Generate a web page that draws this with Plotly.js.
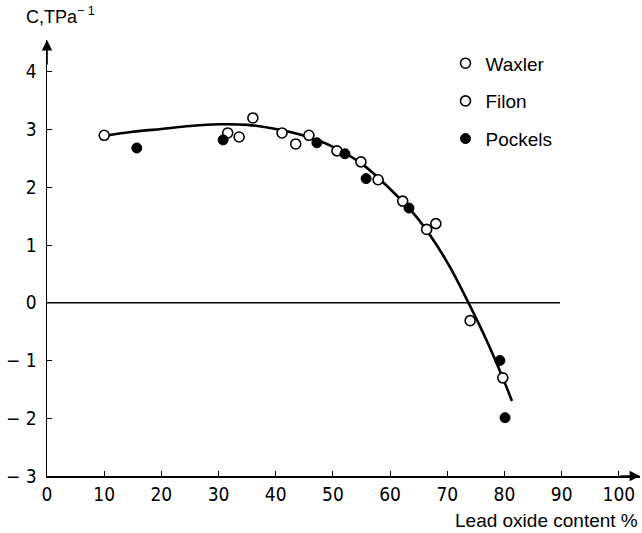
<!DOCTYPE html>
<html><head><meta charset="utf-8">
<script src="https://cdn.plot.ly/plotly-3.0.1.min.js"></script>
<style>html,body{margin:0;padding:0;background:#fff}#chart{width:642px;height:533px}</style>
</head><body><div id="chart"></div>
<script>
// Data
const waxlerX = [10, 31.6, 36, 41.1, 45.8, 50.7, 54.9, 57.9, 62.2, 66.4, 74.0, 79.7];
const waxlerY = [2.90, 2.94, 3.20, 2.94, 2.90, 2.63, 2.44, 2.13, 1.76, 1.27, -0.31, -1.30];
const filonX = [33.6, 43.5, 68.0];
const filonY = [2.87, 2.75, 1.37];
const pockelsX = [15.7, 30.8, 47.2, 52.1, 55.8, 63.3, 79.2, 80.1];
const pockelsY = [2.68, 2.82, 2.77, 2.58, 2.15, 1.64, -1.00, -1.99];
const fitX = [10, 15, 20, 25, 30, 35, 40, 45, 50, 55, 60, 65, 70, 73.8, 77, 79.7, 81.3];
const fitY = [2.89, 2.96, 3.01, 3.06, 3.09, 3.08, 3.01, 2.89, 2.70, 2.41, 1.97, 1.44, 0.70, -0.02, -0.68, -1.30, -1.70];
const xTicks = [0, 10, 20, 30, 40, 50, 60, 70, 80, 90, 100];
const yTicks = [-3, -2, -1, 0, 1, 2, 3, 4];

const FONT = "Liberation Sans, Arial, sans-serif";
const NARROW = "Liberation Sans Narrow, DejaVu Sans Condensed, Arial Narrow, sans-serif";
const openMarker = {symbol: 'circle', size: 10, color: 'white', line: {color: 'black', width: 1.6}};
const traces = [
  {x: fitX, y: fitY, mode: 'lines', line: {shape: 'spline', smoothing: 1, color: 'black', width: 2.6}, showlegend: false, hoverinfo: 'skip'},
  {x: waxlerX, y: waxlerY, mode: 'markers', name: 'Waxler', legendgroup: 'a', marker: openMarker},
  {x: filonX, y: filonY, mode: 'markers', name: 'Filon', legendgroup: 'b', marker: openMarker},
  {x: pockelsX, y: pockelsY, mode: 'markers', name: 'Pockels', legendgroup: 'c',
   marker: {symbol: 'circle', size: 10, color: 'black', line: {color: 'black', width: 1}}}
];

const layout = {
  width: 642, height: 533,
  margin: {l: 47, r: 2, t: 40, b: 57},
  paper_bgcolor: 'white', plot_bgcolor: 'white',
  font: {family: FONT, size: 15, color: 'black'},
  showlegend: true,
  legend: {x: 0.672, y: 0.99, xanchor: 'left', yanchor: 'top', bgcolor: 'rgba(0,0,0,0)',
           font: {family: FONT, size: 19, color: 'black'}, traceorder: 'grouped', tracegroupgap: 10},
  xaxis: {range: [0, 103.7], tickvals: xTicks, ticktext: xTicks.map(String), showgrid: false, zeroline: false,
          showline: true, linecolor: 'black', linewidth: 1.5, ticks: 'inside', ticklen: 5, tickcolor: 'black',
          tickfont: {family: NARROW, size: 19}, ticklabelstandoff: 1, fixedrange: true},
  yaxis: {range: [-3, 4.55], tickvals: yTicks, ticktext: yTicks.map(v => v < 0 ? '\u2212 ' + Math.abs(v) : String(v)),
          showgrid: false, zeroline: false, showline: true, linecolor: 'black', linewidth: 1.5,
          ticks: 'inside', ticklen: 5, tickcolor: 'black', tickfont: {family: NARROW, size: 19},
          ticklabelstandoff: 5, fixedrange: true},
  shapes: [
    {type: 'line', xref: 'x', yref: 'y', x0: 0, x1: 89.7, y0: 0, y1: 0, line: {color: 'black', width: 1.4}}
  ],
  annotations: [
    {xref: 'x', yref: 'y', x: 0, y: 4.55, ax: 0, ay: 4.1, axref: 'x', ayref: 'y', showarrow: true,
     arrowhead: 2, arrowsize: 1.3, arrowwidth: 1.6, arrowcolor: 'black', text: ''},
    {xref: 'x', yref: 'y', x: 103.7, y: -3, ax: 100, ay: -3, axref: 'x', ayref: 'y', showarrow: true,
     arrowhead: 2, arrowsize: 1.3, arrowwidth: 1.6, arrowcolor: 'black', text: ''},
    {xref: 'paper', yref: 'paper', x: -0.038, y: 1.025, xanchor: 'left', yanchor: 'bottom', showarrow: false,
     text: 'C,TPa<sup>\u2212 1</sup>', font: {family: FONT, size: 18}},
    {xref: 'paper', yref: 'paper', x: 1.0, y: -0.074, xanchor: 'right', yanchor: 'top', showarrow: false,
     text: 'Lead oxide content %', font: {family: FONT, size: 19}}
  ]
};
Plotly.newPlot('chart', traces, layout, {displayModeBar: false, staticPlot: true});
</script></body></html>
